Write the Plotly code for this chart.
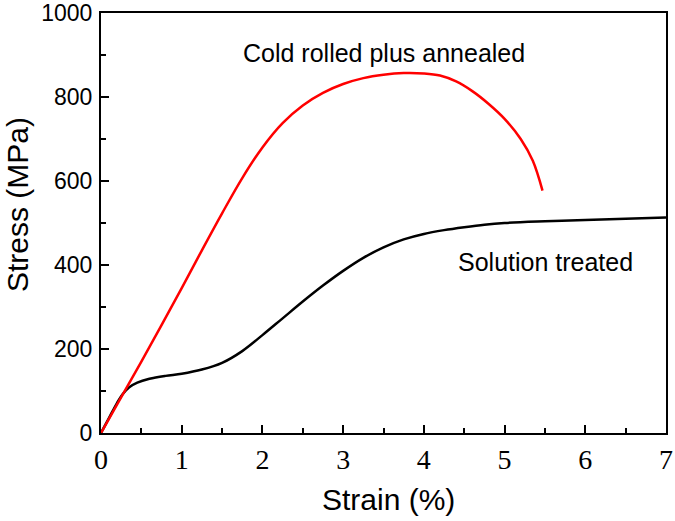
import plotly.graph_objects as go

# Data
strain_st = [0, 0.1, 0.2, 0.27, 0.35, 0.45, 0.6, 0.8, 1.0, 1.25, 1.5, 1.75, 2.0, 2.25, 2.5,
             2.75, 3.0, 3.25, 3.5, 3.75, 4.0, 4.25, 4.5, 4.75, 5.0, 5.5, 6.0, 6.5, 7.0]
stress_st = [0, 36, 72, 93, 109, 120, 129, 136, 141, 151, 167, 195, 233, 273, 313,
             351, 386, 417, 442, 461, 474, 483, 490, 496, 500, 504, 507, 510, 513]

strain_cr = [0, 0.2, 0.5, 1.0, 1.25, 1.5, 1.75, 2.0, 2.25, 2.5, 2.75, 3.0, 3.25,
             3.5, 3.75, 4.0, 4.2, 4.4, 4.6, 4.8, 5.0, 5.2, 5.35, 5.47]
stress_cr = [0, 68, 170, 345, 435, 523, 607, 680, 738, 780, 810, 831, 845,
             853, 857, 856, 851, 837, 814, 784, 748, 700, 648, 577]

x_ticks = [0, 1, 2, 3, 4, 5, 6, 7]
y_ticks = [0, 200, 400, 600, 800, 1000]

fig = go.Figure()
fig.add_trace(go.Scatter(x=strain_st, y=stress_st, mode="lines",
                         line=dict(color="black", width=2.5, shape="spline", smoothing=1.0),
                         showlegend=False, hoverinfo="skip"))
fig.add_trace(go.Scatter(x=strain_cr, y=stress_cr, mode="lines",
                         line=dict(color="#ff0000", width=2.5, shape="spline", smoothing=1.0),
                         showlegend=False, hoverinfo="skip"))

sans = "Liberation Sans, Arial, sans-serif"
serif = "Liberation Serif, Times New Roman, serif"

fig.update_xaxes(range=[0, 7], tickvals=x_ticks, ticktext=[str(v) for v in x_ticks],
                 ticks="inside", ticklen=8, tickwidth=2, tickcolor="black",
                 minor=dict(dtick=0.5, ticks="inside", ticklen=5, tickwidth=2, tickcolor="black"),
                 showline=True, linewidth=2, linecolor="black", mirror=True,
                 showgrid=False, zeroline=False, automargin=False,
                 tickfont=dict(family=serif, size=28, color="black"))
fig.update_yaxes(range=[0, 1000], tickvals=y_ticks, ticktext=[str(v) for v in y_ticks],
                 ticks="inside", ticklen=8, tickwidth=2, tickcolor="black",
                 minor=dict(dtick=100, ticks="inside", ticklen=5, tickwidth=2, tickcolor="black"),
                 showline=True, linewidth=2, linecolor="black", mirror=True,
                 showgrid=False, zeroline=False, automargin=False,
                 ticklabelstandoff=2,
                 tickfont=dict(family=sans, size=23, color="black"))

fig.add_annotation(text="Cold rolled plus annealed", x=3.5, y=905, xref="x", yref="y",
                   xanchor="center", yanchor="middle",
                   showarrow=False, font=dict(family=sans, size=25, color="black"))
fig.add_annotation(text="Solution treated", x=5.51, y=407, xref="x", yref="y",
                   xanchor="center", yanchor="middle",
                   showarrow=False, font=dict(family=sans, size=25, color="black"))
fig.add_annotation(text="Stress (MPa)", x=-0.148, y=0.5436, xref="paper", yref="paper",
                   xanchor="center", yanchor="middle",
                   textangle=-90, showarrow=False, font=dict(family=sans, size=30, color="black"))
fig.add_annotation(text="Strain (%)", x=0.5084, y=-0.159, xref="paper", yref="paper",
                   xanchor="center", yanchor="middle",
                   showarrow=False, font=dict(family=sans, size=30, color="black"))

fig.update_layout(width=675, height=521, margin=dict(l=101, r=9, t=13, b=88, autoexpand=False),
                  plot_bgcolor="white", paper_bgcolor="white")

fig.write_html("out.html", config={"displayModeBar": False},
               post_script="document.body.style.margin='0';document.body.style.padding='0';")
